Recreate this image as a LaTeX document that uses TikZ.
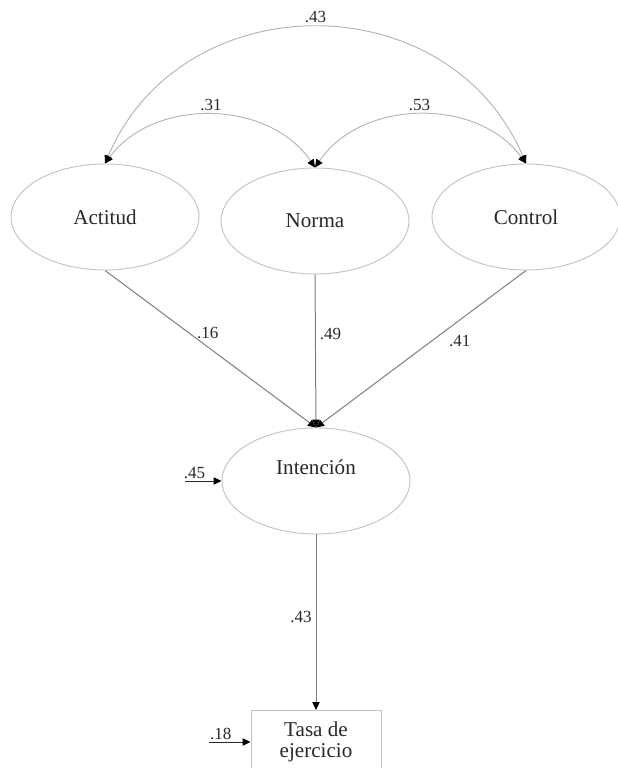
\documentclass[tikz,border=0pt]{standalone}
\usepackage{fontspec}
\setmainfont{Liberation Serif}
\usetikzlibrary{arrows.meta,positioning,calc,shapes.geometric}
\definecolor{ovalgray}{RGB}{195,195,195}
\definecolor{arcgray}{RGB}{180,180,180}
\definecolor{linegray}{RGB}{125,125,125}
\definecolor{textgray}{RGB}{40,40,40}
\tikzset{
  latent/.style={
    ellipse, draw=ovalgray, line width=.8pt,
    minimum width=5.64cm, minimum height=3.18cm, inner sep=0pt,
    text=textgray, font=\fontsize{18}{18.5}\selectfont
  },
  observed/.style={
    rectangle, draw=ovalgray, line width=.8pt,
    minimum width=3.9cm, minimum height=1.89cm, align=center,
    text=textgray, font=\fontsize{18}{18.5}\selectfont
  },
  varname/.style={text=textgray, font=\fontsize{18}{18.5}\selectfont},
  coef/.style={text=textgray, font=\fontsize{14.5}{16}\selectfont},
  effect/.style={-{Stealth[length=2.4mm,width=2.2mm,inset=0pt,color=black]}, line width=.85pt, draw=linegray},
  covar/.style={{Stealth[length=2.4mm,width=2.2mm,inset=0pt,color=black]}-{Stealth[length=2.4mm,width=2.2mm,inset=0pt,color=black]}, line width=.8pt, draw=arcgray},
  resid/.style={-{Stealth[length=2.4mm,width=2.2mm,inset=0pt,color=black]}, line width=.8pt, draw=textgray}
}

\begin{document}
\begin{tikzpicture}[x=1cm,y=1cm]
  \useasboundingbox (0,0) rectangle (18.54,23.04);
  % Predictors
  \node[latent] (act) at (3.15,16.53) {Actitud};
  \node[latent] (nor) at (9.45,16.41) {Norma};
  \node[latent] (ctl) at (15.78,16.53) {Control};

  % Intention and behaviour
  \node[latent, label={[varname,yshift=0.42cm]center:Intención}] (int) at (9.48,8.61) {};
  \node[observed] (tasa) at (9.48,0.78) {Tasa de\\ejercicio};

  % Residual terms
  \coordinate (eint) at (5.55,8.61);
  \coordinate (etasa) at (6.27,0.78);

  % Covariances between predictors
  \draw[covar] (act.north) to[bend left=55] node[coef,above]{.31} (nor.north);
  \draw[covar] (nor.north) to[bend left=55] node[coef,above]{.53} (ctl.north);
  \draw[covar] (act.north) to[bend left=67,looseness=1.2] node[coef,above]{.43} (ctl.north);

  % Predictors to intention
  \draw[effect] (act.south) -- node[coef,pos=0.4,right=0.1cm]{.16} (int.north);
  \draw[effect] (nor.south) -- node[coef,pos=0.39,right=0pt]{.49} (int.north);
  \draw[effect] (ctl.south) -- node[coef,pos=0.45,right=0.4cm]{.41} (int.north);
  % Intention to behaviour
  \draw[effect] (int.south) -- node[coef,pos=0.47,left]{.43} (tasa.north);

  % Residuals
  \draw[resid] (eint) -- node[coef,pos=0.26,above=-0.05cm]{.45} (int.west);
  \draw[resid] (etasa) -- node[coef,pos=0.28,above=-0.05cm]{.18} (tasa.west);
\end{tikzpicture}
\end{document}
